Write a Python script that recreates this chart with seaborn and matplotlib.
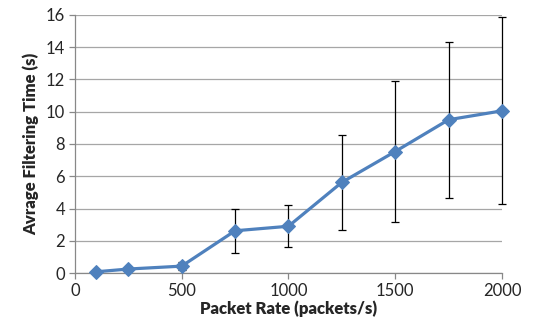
import numpy as np
import pandas as pd
import matplotlib
matplotlib.use("Agg")
import matplotlib.pyplot as plt
import seaborn as sns

# data
packet_rate = [100, 250, 500, 750, 1000, 1250, 1500, 1750, 2000]
avg_time = [0.08, 0.25, 0.43, 2.62, 2.9, 5.62, 7.53, 9.5, 10.05]
err = [0.0, 0.0, 0.27, 1.35, 1.3, 2.93, 4.34, 4.82, 5.8]

df = pd.DataFrame({"rate": packet_rate, "time": avg_time, "err": err})

sns.set_style("white")
plt.rcParams['font.family'] = ['Lato', 'DejaVu Sans']

fig = plt.figure(figsize=(5.51, 3.29), dpi=100)
ax = fig.add_axes([0.136, 0.170, 0.775, 0.785])

ax.errorbar(df.rate, df.time, yerr=df.err, fmt="none", ecolor="black",
            elinewidth=0.9, capsize=3, capthick=0.9, zorder=2, clip_on=False)
sns.lineplot(data=df, x="rate", y="time", ax=ax, color="#4F81BD", linewidth=2.3,
             marker="D", markersize=7, markeredgecolor="#4F81BD", zorder=3, clip_on=False)

ax.set_xlim(0, 2000)
ax.set_ylim(0, 16)
ax.set_xticks([0, 500, 1000, 1500, 2000])
ax.set_yticks(np.arange(0, 17, 2))
ax.yaxis.grid(True, color="#a6a6a6", linewidth=0.9)
ax.set_axisbelow(True)
for s in ["top", "right"]:
    ax.spines[s].set_visible(False)
for s in ["left", "bottom"]:
    ax.spines[s].set_color("#888888")
    ax.spines[s].set_linewidth(0.9)
ax.tick_params(axis="both", direction="out", length=4, width=0.9, color="#888888",
               labelsize=12, pad=3)
ax.tick_params(axis="x", bottom=True)
ax.tick_params(axis="y", left=True)

ax.set_xlabel("Packet Rate (packets/s)", fontsize=12, fontweight="heavy", labelpad=1)
ax.set_ylabel("Avrage Filtering Time (s)", fontsize=12, fontweight="heavy", labelpad=5)

fig.savefig("out.png", dpi=100)
